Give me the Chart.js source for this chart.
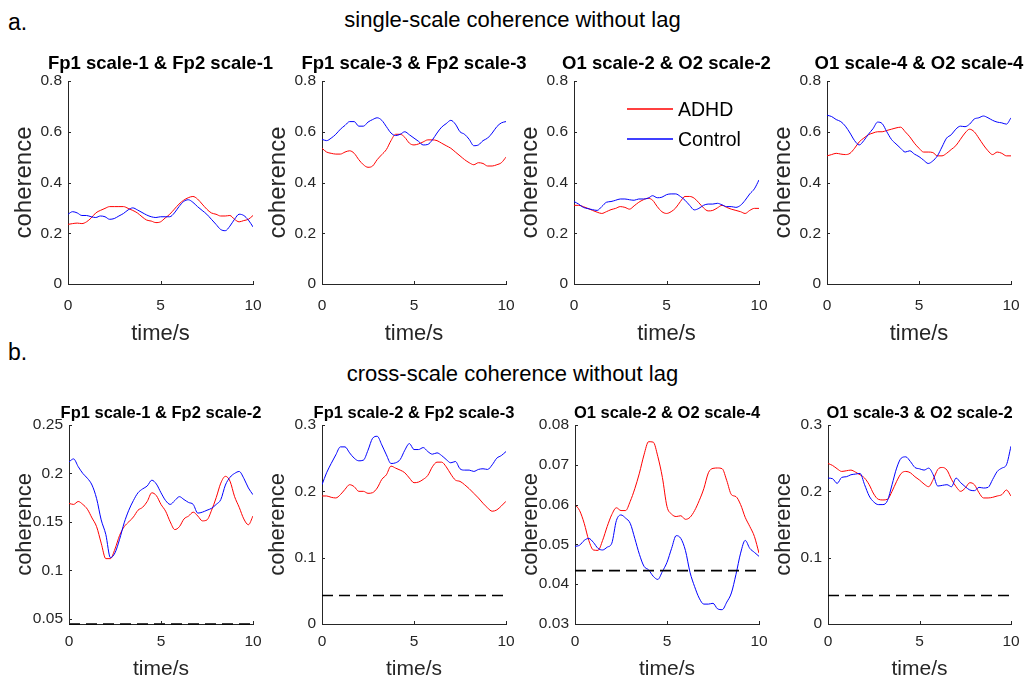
<!DOCTYPE html>
<html>
<head>
<meta charset="utf-8">
<script src="https://cdn.jsdelivr.net/npm/chart.js@4.4.0/dist/chart.umd.min.js"></script>
<style>
  body { margin: 0; background: #fff; }
  #page { position: relative; width: 1025px; height: 679px; overflow: hidden; font-family: "Liberation Sans", Arial, sans-serif; }
  .lbl { position: absolute; white-space: nowrap; color: #000; }
  canvas { position: absolute; }
</style>
</head>
<body>
<div id="page">
  <div class="lbl" style="left:8px; top:11px; font-size:23px; line-height:23px;">a.</div>
  <div class="lbl" style="left:0; width:1025px; text-align:center; top:9px; font-size:22px; line-height:22px;">single-scale coherence without lag</div>
  <div class="lbl" style="left:8px; top:341px; font-size:23px; line-height:23px;">b.</div>
  <div class="lbl" style="left:0; width:1025px; text-align:center; top:363px; font-size:22px; line-height:22px;">cross-scale coherence without lag</div>
</div>
<script>
// time axis (s)
var times = [0,0.25,0.5,0.75,1,1.25,1.5,1.75,2,2.25,2.5,2.75,3,3.25,3.5,3.75,4,4.25,4.5,4.75,5,5.25,5.5,5.75,6,6.25,6.5,6.75,7,7.25,7.5,7.75,8,8.25,8.5,8.75,9,9.25,9.5,9.75,10];

// a. single-scale
var adhd1 = [.235,.238,.24,.238,.245,.26,.28,.29,.298,.305,.305,.305,.305,.298,.29,.28,.265,.252,.248,.242,.245,.26,.275,.295,.315,.33,.34,.345,.335,.315,.295,.28,.275,.268,.268,.27,.255,.245,.25,.255,.27];
var ctrl1 = [.275,.285,.28,.27,.27,.265,.262,.268,.265,.255,.258,.268,.278,.292,.30,.292,.282,.272,.265,.262,.265,.265,.265,.28,.305,.325,.332,.322,.305,.29,.275,.255,.235,.215,.21,.228,.255,.275,.27,.252,.225];
var adhd2 = [.535,.52,.515,.512,.512,.52,.525,.515,.49,.47,.46,.465,.49,.51,.53,.565,.59,.59,.578,.555,.548,.552,.56,.568,.568,.565,.555,.545,.535,.52,.505,.49,.478,.47,.478,.475,.465,.465,.47,.478,.50];
var ctrl2 = [.57,.565,.575,.59,.61,.625,.64,.64,.622,.622,.638,.648,.655,.645,.62,.595,.585,.59,.60,.588,.575,.562,.548,.55,.568,.595,.618,.632,.645,.63,.60,.59,.57,.545,.548,.565,.575,.595,.62,.635,.64];
var adhd3 = [.31,.31,.305,.298,.29,.283,.278,.285,.293,.298,.305,.302,.295,.308,.322,.332,.338,.33,.305,.285,.278,.285,.30,.325,.345,.345,.338,.32,.30,.288,.29,.30,.31,.302,.295,.29,.285,.278,.29,.298,.298];
var ctrl3 = [.325,.315,.302,.297,.293,.29,.305,.322,.325,.33,.335,.335,.332,.33,.335,.335,.338,.348,.34,.342,.352,.355,.355,.345,.33,.31,.292,.298,.31,.315,.315,.318,.312,.305,.305,.302,.31,.33,.355,.375,.41];
var adhd4 = [.505,.51,.515,.512,.51,.515,.535,.56,.575,.588,.595,.60,.60,.605,.61,.615,.618,.60,.58,.555,.535,.52,.52,.518,.505,.505,.515,.53,.545,.57,.595,.61,.60,.575,.548,.525,.51,.52,.515,.505,.505];
var ctrl4 = [.665,.66,.648,.64,.622,.595,.565,.548,.565,.59,.612,.638,.632,.60,.57,.552,.535,.52,.525,.512,.502,.488,.475,.485,.505,.54,.575,.588,.61,.622,.62,.63,.65,.655,.662,.655,.645,.638,.635,.63,.655];

// b. cross-scale
var adhd5 = [.169,.168,.171,.168,.163,.154,.145,.128,.112,.112,.122,.136,.145,.15,.155,.162,.165,.171,.18,.177,.168,.161,.15,.142,.145,.153,.156,.16,.156,.151,.152,.162,.175,.19,.197,.192,.176,.165,.153,.147,.156];
var ctrl5 = [.212,.215,.207,.20,.195,.188,.174,.152,.137,.113,.118,.132,.149,.162,.172,.18,.184,.187,.193,.189,.18,.172,.168,.172,.176,.173,.17,.168,.159,.16,.162,.164,.168,.173,.188,.196,.20,.202,.195,.185,.178];
var adhd6 = [.193,.193,.191,.19,.195,.203,.21,.207,.20,.20,.197,.198,.205,.218,.225,.238,.235,.232,.228,.22,.213,.214,.218,.224,.237,.244,.244,.237,.226,.217,.215,.21,.204,.197,.19,.182,.175,.17,.172,.178,.185];
var ctrl6 = [.21,.228,.242,.255,.267,.267,.258,.25,.246,.247,.262,.28,.283,.27,.255,.242,.243,.248,.262,.272,.263,.263,.266,.26,.256,.258,.254,.248,.243,.245,.234,.232,.232,.23,.233,.234,.233,.24,.25,.254,.26];
var adhd7 = [.060,.0585,.0553,.051,.0486,.0485,.051,.0545,.0575,.0592,.0585,.0585,.0608,.064,.0679,.0725,.0758,.0757,.0721,.0668,.0595,.0576,.057,.0572,.0563,.0568,.0585,.061,.064,.068,.0691,.0692,.069,.066,.0625,.062,.06,.0568,.0545,.052,.0478];
var ctrl7 = [.0495,.0498,.051,.0515,.0505,.049,.0486,.0493,.0503,.056,.0574,.0566,.0553,.0515,.0475,.0445,.0436,.042,.0412,.0432,.0455,.049,.0522,.0515,.0485,.043,.0394,.0365,.035,.035,.0352,.0338,.0336,.0355,.0378,.0425,.0478,.051,.049,.048,.047];
var adhd8 = [.242,.239,.234,.23,.231,.232,.229,.225,.22,.21,.196,.188,.187,.188,.20,.215,.227,.23,.228,.222,.217,.211,.207,.218,.233,.236,.232,.218,.207,.20,.205,.213,.21,.198,.19,.19,.191,.193,.195,.202,.193];
var ctrl8 = [.22,.219,.212,.221,.222,.225,.226,.227,.21,.193,.184,.18,.18,.186,.21,.235,.25,.252,.245,.236,.234,.232,.235,.225,.208,.209,.21,.207,.22,.213,.207,.202,.201,.206,.205,.206,.218,.23,.235,.24,.268];

// significance thresholds (dashed)
var thresh5 = 0.0445, thresh6 = 0.043, thresh7 = 0.0434, thresh8 = 0.043;

// ticks
var xTicks = [0, 5, 10];
var yTicksSingle = [0, 0.2, 0.4, 0.6, 0.8];
var yTicks5 = [0.05, 0.1, 0.15, 0.2, 0.25];
var yTicks6 = [0, 0.1, 0.2, 0.3];
var yTicks7 = [0.03, 0.04, 0.05, 0.06, 0.07, 0.08];
var yTicks8 = [0, 0.1, 0.2, 0.3];

var titles = ["Fp1 scale-1 & Fp2 scale-1", "Fp1 scale-3 & Fp2 scale-3", "O1 scale-2 & O2 scale-2", "O1 scale-4 & O2 scale-4",
              "Fp1 scale-1 & Fp2 scale-2", "Fp1 scale-2 & Fp2 scale-3", "O1 scale-2 & O2 scale-4", "O1 scale-3 & O2 scale-2"];
var seriesNames = ["ADHD", "Control"];
var seriesColors = ["#ff0000", "#0000ff"];

var FONT = "'Liberation Sans', Arial, sans-serif";
var AXIS = "#262626";
var PAD_R = 40;

// layout of each panel (plot area in page pixels)
var panels = [
  {row: 0, left: 68,  right: 253,  min: 0, max: 0.8, yTicks: yTicksSingle, adhd: adhd1, ctrl: ctrl1},
  {row: 0, left: 322, right: 506,  min: 0, max: 0.8, yTicks: yTicksSingle, adhd: adhd2, ctrl: ctrl2},
  {row: 0, left: 574, right: 759,  min: 0, max: 0.8, yTicks: yTicksSingle, adhd: adhd3, ctrl: ctrl3, legend: true},
  {row: 0, left: 827, right: 1011, min: 0, max: 0.8, yTicks: yTicksSingle, adhd: adhd4, ctrl: ctrl4},
  {row: 1, left: 69,  right: 253,  min: thresh5, max: 0.25, yTicks: yTicks5, adhd: adhd5, ctrl: ctrl5, thresh: thresh5},
  {row: 1, left: 322, right: 506,  min: 0, max: 0.3, yTicks: yTicks6, adhd: adhd6, ctrl: ctrl6, thresh: thresh6},
  {row: 1, left: 575, right: 759,  min: 0.03, max: 0.08, yTicks: yTicks7, adhd: adhd7, ctrl: ctrl7, thresh: thresh7},
  {row: 1, left: 828, right: 1011, min: 0, max: 0.3, yTicks: yTicks8, adhd: adhd8, ctrl: ctrl8, thresh: thresh8}
];

var rows = [
  {top: 40,  height: 320, xH: 76, tickPad: 12, titleGap: 17, titleSize: 18.5, yTitle: 24, yTitlePad: 9.6, xTitle: 22, xTitlePad: 12.8},
  {top: 384, height: 300, xH: 60, tickPad: 8.5, titleGap: 12, titleSize: 16.5, yTitle: 22, yTitlePad: 10.8, xTitle: 21, xTitlePad: 2.4}
];

function pts(vals) {
  return times.map(function(t, i) { return {x: t, y: vals[i]}; });
}

// subplot titles, inward tick marks, legend
var panelDecor = {
  id: "panelDecor",
  afterDatasetsDraw: function(chart, args, opts) {
    var ctx = chart.ctx, a = chart.chartArea;
    var xs = chart.scales.x, ys = chart.scales.y;
    ctx.save();
    ctx.fillStyle = AXIS;
    xs.ticks.forEach(function(t) {
      var px = Math.round(xs.getPixelForValue(t.value));
      ctx.fillRect(px, a.bottom - 3, 1, 3);
    });
    ys.ticks.forEach(function(t) {
      var py = Math.round(ys.getPixelForValue(t.value));
      ctx.fillRect(a.left, py, 3, 1);
    });

    ctx.fillStyle = "#000";
    ctx.font = "bold " + opts.titleSize + "px " + FONT;
    ctx.textAlign = "center";
    ctx.textBaseline = "middle";
    ctx.fillText(opts.title, (a.left + a.right) / 2, a.top - opts.titleGap);

    if (opts.legend) {
      ctx.font = "19.5px " + FONT;
      ctx.textAlign = "left";
      ctx.lineWidth = 1.3;
      seriesNames.forEach(function(name, i) {
        var ly = Math.round(a.top + 28 + i * 30);
        ctx.strokeStyle = seriesColors[i];
        ctx.beginPath();
        ctx.moveTo(a.left + 53, ly);
        ctx.lineTo(a.left + 99, ly);
        ctx.stroke();
        ctx.fillStyle = "#000";
        ctx.fillText(name, a.left + 104, ly + 1.5);
      });
    }
    ctx.restore();
  }
};

var page = document.getElementById("page");

panels.forEach(function(p, k) {
  var r = rows[p.row];
  var cv = document.createElement("canvas");
  cv.width = p.right - p.left + 68 + PAD_R;
  cv.height = r.height;
  cv.style.left = (p.left - 68) + "px";
  cv.style.top = r.top + "px";
  page.appendChild(cv);

  var datasets = [
    {label: seriesNames[0], data: pts(p.adhd), borderColor: seriesColors[0], order: 2},
    {label: seriesNames[1], data: pts(p.ctrl), borderColor: seriesColors[1], order: 1}
  ];
  if (p.thresh !== undefined) {
    datasets.push({
      label: "threshold",
      data: [{x: times[0], y: p.thresh}, {x: times[times.length - 1], y: p.thresh}],
      borderColor: "#000", borderWidth: 1.6, borderDash: [11, 6], order: 0, clip: 4
    });
  }
  datasets.forEach(function(d) {
    d.pointRadius = 0;
    d.fill = false;
    if (d.borderWidth === undefined) d.borderWidth = 1;
    d.cubicInterpolationMode = "monotone";
  });

  new Chart(cv, {
    type: "line",
    data: {datasets: datasets},
    options: {
      responsive: false,
      animation: false,
      events: [],
      layout: {padding: {top: 41, right: PAD_R, left: 0, bottom: 0}},
      plugins: {
        legend: {display: false},
        tooltip: {enabled: false},
        panelDecor: {title: titles[k], titleSize: r.titleSize, titleGap: r.titleGap, legend: !!p.legend}
      },
      scales: {
        x: {
          type: "linear", min: 0, max: 10,
          afterBuildTicks: function(s) { s.ticks = xTicks.map(function(v) { return {value: v}; }); },
          afterFit: function(s) { s.height = r.xH; },
          grid: {display: false, drawTicks: false},
          border: {display: true, color: AXIS, width: 1},
          ticks: {color: AXIS, font: {family: FONT, size: 15.5}, padding: r.tickPad, maxRotation: 0},
          title: {display: true, text: "time/s", color: AXIS, font: {family: FONT, size: r.xTitle}, padding: {top: 0, bottom: r.xTitlePad}}
        },
        y: {
          min: p.min, max: p.max,
          afterBuildTicks: function(s) { s.ticks = p.yTicks.map(function(v) { return {value: v}; }); },
          afterFit: function(s) { s.width = 68; },
          grid: {display: false, drawTicks: false},
          border: {display: true, color: AXIS, width: 1},
          ticks: {color: AXIS, font: {family: FONT, size: 15.5}, padding: 6,
                  callback: function(v) { return String(+v.toFixed(3)); }},
          title: {display: true, text: "coherence", color: AXIS, font: {family: FONT, size: r.yTitle}, padding: {top: r.yTitlePad, bottom: 0}}
        }
      }
    },
    plugins: [panelDecor]
  });
});
</script>
</body>
</html>
